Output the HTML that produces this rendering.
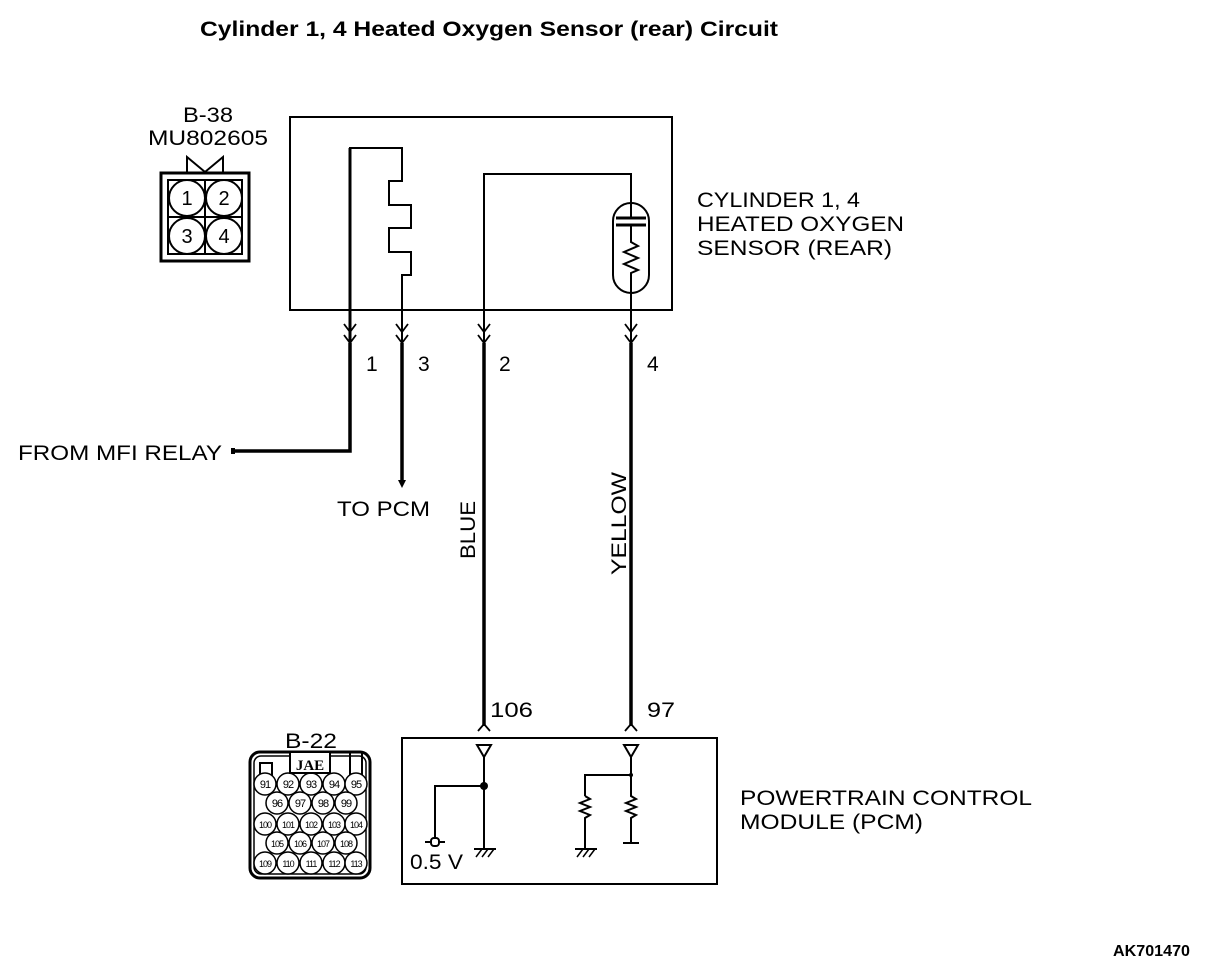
<!DOCTYPE html>
<html><head><style>
html,body{margin:0;padding:0;background:#fff;}
svg{display:block;}
text{font-family:"Liberation Sans",sans-serif;fill:#000;}
</style></head><body>
<svg width="1216" height="968" viewBox="0 0 1216 968" xmlns="http://www.w3.org/2000/svg">
<g font-size="21" lengthAdjust="spacingAndGlyphs">
<text x="200" y="36" font-weight="bold" font-size="21" textLength="578" lengthAdjust="spacingAndGlyphs">Cylinder 1, 4 Heated Oxygen Sensor (rear) Circuit</text>
<text x="183" y="122" textLength="50" lengthAdjust="spacingAndGlyphs">B-38</text>
<text x="148" y="145" textLength="120" lengthAdjust="spacingAndGlyphs">MU802605</text>
<text x="697" y="207" textLength="163" lengthAdjust="spacingAndGlyphs">CYLINDER 1, 4</text>
<text x="697" y="231" textLength="207" lengthAdjust="spacingAndGlyphs">HEATED OXYGEN</text>
<text x="697" y="255" textLength="195" lengthAdjust="spacingAndGlyphs">SENSOR (REAR)</text>
<text x="366" y="371">1</text>
<text x="418" y="371">3</text>
<text x="499" y="371">2</text>
<text x="647" y="371">4</text>
<text x="18" y="460" textLength="204" lengthAdjust="spacingAndGlyphs">FROM MFI RELAY</text>
<text x="337" y="516" textLength="93" lengthAdjust="spacingAndGlyphs">TO PCM</text>
<text transform="translate(475,559) rotate(-90)" textLength="58" lengthAdjust="spacingAndGlyphs">BLUE</text>
<text transform="translate(626,575) rotate(-90)" textLength="103" lengthAdjust="spacingAndGlyphs">YELLOW</text>
<text x="490" y="717" textLength="43" lengthAdjust="spacingAndGlyphs">106</text>
<text x="647" y="717" textLength="28" lengthAdjust="spacingAndGlyphs">97</text>
<text x="285" y="748" textLength="52" lengthAdjust="spacingAndGlyphs">B-22</text>
<text x="740" y="805" textLength="292" lengthAdjust="spacingAndGlyphs">POWERTRAIN CONTROL</text>
<text x="740" y="829" textLength="183" lengthAdjust="spacingAndGlyphs">MODULE (PCM)</text>
<text x="410" y="869" textLength="53" lengthAdjust="spacingAndGlyphs">0.5 V</text>
<text x="1113" y="956" font-weight="bold" font-size="16" textLength="77" lengthAdjust="spacingAndGlyphs">AK701470</text>
</g>
<g fill="none" stroke="#000" stroke-width="2">
<rect x="161" y="173" width="88" height="88" stroke-width="3"/>
<rect x="168" y="180" width="74" height="74"/>
<line x1="205" y1="180" x2="205" y2="254"/><line x1="168" y1="217" x2="242" y2="217"/>
<circle cx="187" cy="198" r="18"/><circle cx="224" cy="198" r="18"/>
<circle cx="187" cy="236" r="18"/><circle cx="224" cy="236" r="18"/>
<polyline points="187,172 187,157 205,172 223,157 223,172"/>
<rect x="290" y="117" width="382" height="193"/>
<polyline points="350,345 350,148 402,148 402,181 389,181 389,205 411,205 411,228 389,228 389,252 411,252 411,275 402,275 402,345"/>
<line x1="350" y1="148" x2="350" y2="345" stroke-width="3"/>
<polyline points="484,345 484,174 631,174 631,218"/>
<rect x="613" y="203" width="36" height="90" rx="18"/>
<line x1="616" y1="218" x2="646" y2="218" stroke-width="3"/>
<line x1="616" y1="225" x2="646" y2="225" stroke-width="3"/>
<polyline points="631,225 631,242 638,246 624,252 638,258 624,264 638,270 631,273 631,345"/>
<g stroke-width="1.8">
<polyline points="344,324 350,332 356,324"/><polyline points="344,335 350,343 356,335"/>
<polyline points="396,324 402,332 408,324"/><polyline points="396,335 402,343 408,335"/>
<polyline points="478,324 484,332 490,324"/><polyline points="478,335 484,343 490,335"/>
<polyline points="625,324 631,332 637,324"/><polyline points="625,335 631,343 637,335"/>
<polyline points="478,731 484,724 490,731"/><polyline points="625,731 631,724 637,731"/>
</g>
<g stroke-width="3.5">
<polyline points="350,343 350,451 234,451"/>
<line x1="402" y1="343" x2="402" y2="480"/>
<line x1="484" y1="343" x2="484" y2="726"/>
<line x1="631" y1="343" x2="631" y2="726"/>
</g>
<rect x="402" y="738" width="315" height="146"/>
<polygon points="477,745 491,745 484,757"/>
<polygon points="624,745 638,745 631,757"/>
<polyline points="484,757 484,848"/>
<polyline points="484,786 435,786 435,843"/>
<line x1="425" y1="842" x2="445" y2="842"/>
<rect x="431" y="838" width="8" height="8" rx="3" fill="#fff"/>
<line x1="474" y1="849" x2="496" y2="849"/>
<path d="M476,857 L482,849 M482,857 L488,849 M488,857 L494,849" stroke-width="1.5"/>
<polyline points="631,757 631,775 585,775 585,796"/>
<polyline points="585,796 590,799 580,803 590,807 580,811 590,815 585,818 585,848"/>
<polyline points="631,775 631,796 636,799 626,803 636,807 626,811 636,815 631,818 631,843"/>
<line x1="623" y1="843" x2="639" y2="843"/>
<line x1="575" y1="849" x2="597" y2="849"/>
<path d="M577,857 L583,849 M583,857 L589,849 M589,857 L595,849" stroke-width="1.5"/>
<rect x="250" y="752" width="120" height="126" rx="10" stroke-width="3"/>
<rect x="254" y="756" width="112" height="118" rx="7" stroke-width="1.5"/>
<rect x="260" y="763" width="12" height="20"/>
<rect x="350" y="752" width="12" height="28"/>
</g>
<circle cx="484" cy="786" r="4" fill="#000"/>
<circle cx="631" cy="775" r="2" fill="#000"/>
<polygon points="398,480 406,480 402,488" fill="#000"/>
<rect x="231" y="448" width="4" height="6" fill="#000"/>
<g fill="#fff" stroke="#000" stroke-width="1.5">
<circle cx="265" cy="784" r="11"/><circle cx="288" cy="784" r="11"/><circle cx="311" cy="784" r="11"/><circle cx="334" cy="784" r="11"/><circle cx="356" cy="784" r="11"/>
<circle cx="277" cy="803" r="11"/><circle cx="300" cy="803" r="11"/><circle cx="323" cy="803" r="11"/><circle cx="346" cy="803" r="11"/>
<circle cx="265" cy="824" r="11"/><circle cx="288" cy="824" r="11"/><circle cx="311" cy="824" r="11"/><circle cx="334" cy="824" r="11"/><circle cx="356" cy="824" r="11"/>
<circle cx="277" cy="843" r="11"/><circle cx="300" cy="843" r="11"/><circle cx="323" cy="843" r="11"/><circle cx="346" cy="843" r="11"/>
<circle cx="265" cy="863" r="11"/><circle cx="288" cy="863" r="11"/><circle cx="311" cy="863" r="11"/><circle cx="334" cy="863" r="11"/><circle cx="356" cy="863" r="11"/>
</g>
<rect x="290" y="752" width="40" height="21" fill="#fff" stroke="#000" stroke-width="2"/>
<text x="310" y="770" text-anchor="middle" font-weight="bold" font-size="15" style="font-family:'Liberation Serif',serif">JAE</text>
<g font-size="11" text-anchor="middle" style="letter-spacing:-1px">
<text x="265" y="788">91</text><text x="288" y="788">92</text><text x="311" y="788">93</text><text x="334" y="788">94</text><text x="356" y="788">95</text>
<text x="277" y="807">96</text><text x="300" y="807">97</text><text x="323" y="807">98</text><text x="346" y="807">99</text>
<text x="265" y="828" font-size="9">100</text><text x="288" y="828" font-size="9">101</text><text x="311" y="828" font-size="9">102</text><text x="334" y="828" font-size="9">103</text><text x="356" y="828" font-size="9">104</text>
<text x="277" y="847" font-size="9">105</text><text x="300" y="847" font-size="9">106</text><text x="323" y="847" font-size="9">107</text><text x="346" y="847" font-size="9">108</text>
<text x="265" y="867" font-size="9">109</text><text x="288" y="867" font-size="9">110</text><text x="311" y="867" font-size="9">111</text><text x="334" y="867" font-size="9">112</text><text x="356" y="867" font-size="9">113</text>
</g>
<g font-size="20">
<text x="187" y="205" text-anchor="middle">1</text><text x="224" y="205" text-anchor="middle">2</text>
<text x="187" y="243" text-anchor="middle">3</text><text x="224" y="243" text-anchor="middle">4</text>
</g>
</svg>
</body></html>
